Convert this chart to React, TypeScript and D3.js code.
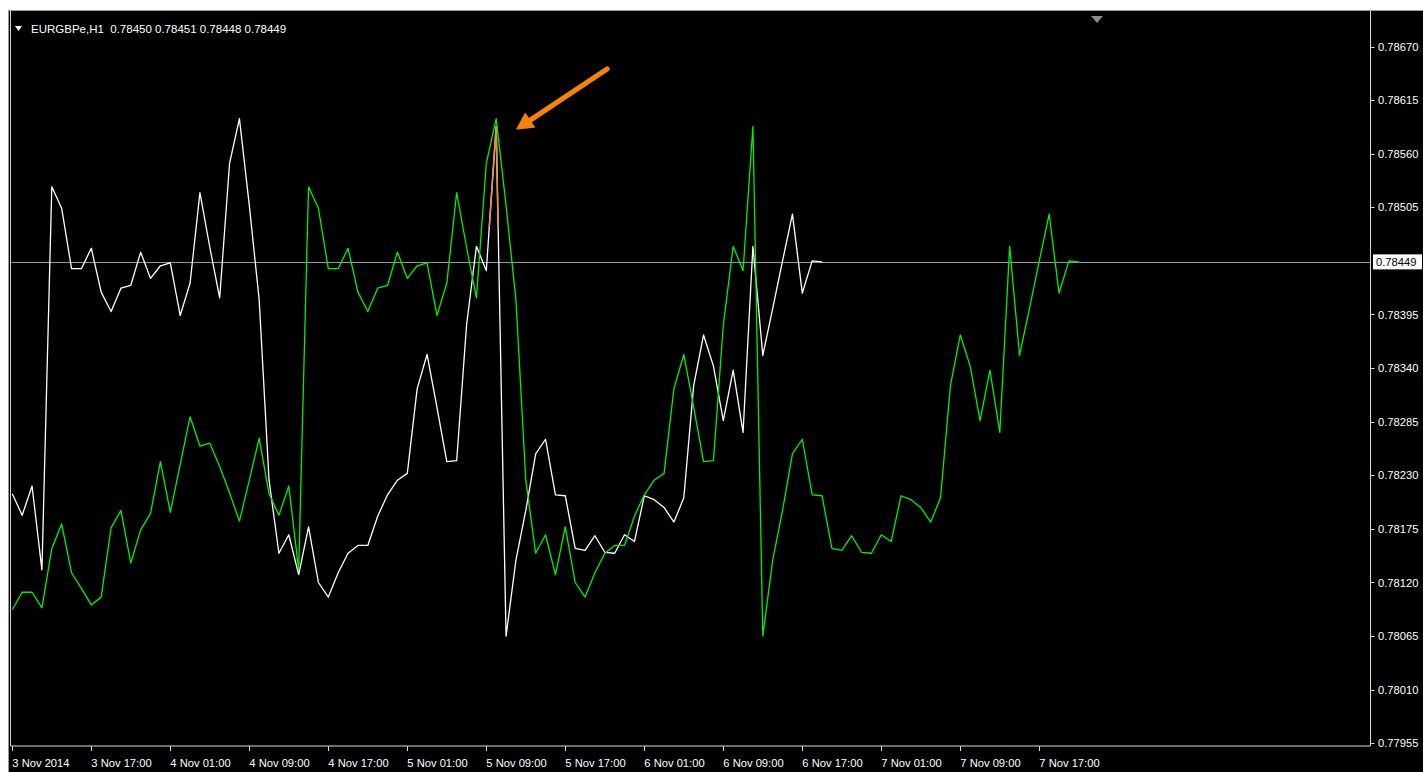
import React from "react";
import * as d3 from "d3";

// chart values
const symbolTitle = "EURGBPe,H1  0.78450 0.78451 0.78448 0.78449";
const currentPrice = 0.78449;

const timeLabels = [
  "3 Nov 2014", "3 Nov 17:00", "4 Nov 01:00", "4 Nov 09:00", "4 Nov 17:00",
  "5 Nov 01:00", "5 Nov 09:00", "5 Nov 17:00", "6 Nov 01:00", "6 Nov 09:00",
  "6 Nov 17:00", "7 Nov 01:00", "7 Nov 09:00", "7 Nov 17:00",
];

const priceTicks = [
  0.7867, 0.78615, 0.7856, 0.78505, 0.78395, 0.7834, 0.78285,
  0.7823, 0.78175, 0.7812, 0.78065, 0.7801, 0.77955,
];

// white line: hourly close
const whiteClose = [
  0.78211, 0.78189, 0.78219, 0.78133, 0.78526, 0.78504, 0.78442, 0.78442, 0.78463, 0.78418,
  0.78398, 0.78422, 0.78425, 0.78459, 0.78432, 0.78445, 0.78448, 0.78394, 0.78427, 0.7852,
  0.78464, 0.78412, 0.7855, 0.78596, 0.78507, 0.7841, 0.78225, 0.7815, 0.78169, 0.78128,
  0.78177, 0.7812, 0.78105, 0.7813, 0.7815, 0.78158, 0.78158, 0.78188, 0.7821, 0.78225,
  0.78232, 0.78319, 0.78354, 0.783, 0.78244, 0.78245, 0.78384, 0.78465, 0.7844, 0.78588,
  0.78065, 0.78143, 0.78194, 0.78252, 0.78267, 0.7821, 0.78209, 0.78155, 0.78153, 0.78168,
  0.78151, 0.7815, 0.78169, 0.78162, 0.78209, 0.78205, 0.78197, 0.78182, 0.78207, 0.78322,
  0.78374, 0.78342, 0.78286, 0.78338, 0.78274, 0.78465, 0.78353, 0.78401, 0.7845, 0.78498,
  0.78417, 0.7845, 0.78449,
];

// green line: shifted series
const greenLine = [
  0.78092, 0.7811, 0.7811, 0.78094, 0.78155, 0.7818, 0.7813, 0.78114, 0.78097, 0.78105,
  0.78176, 0.78194, 0.7814, 0.78174, 0.78191, 0.78244, 0.78192, 0.78241, 0.7829, 0.7826,
  0.78263, 0.78239, 0.78212, 0.78183, 0.78225, 0.78268,
  0.78211, 0.78189, 0.78219, 0.78133, 0.78526, 0.78504, 0.78442, 0.78442, 0.78463, 0.78418,
  0.78398, 0.78422, 0.78425, 0.78459, 0.78432, 0.78445, 0.78448, 0.78394, 0.78427, 0.7852,
  0.78464, 0.78412, 0.7855, 0.78596, 0.78507, 0.7841, 0.78225, 0.7815, 0.78169, 0.78128,
  0.78177, 0.7812, 0.78105, 0.7813, 0.7815, 0.78158, 0.78158, 0.78188, 0.7821, 0.78225,
  0.78232, 0.78319, 0.78354, 0.783, 0.78244, 0.78245, 0.78384, 0.78465, 0.7844, 0.78588,
  0.78065, 0.78143, 0.78194, 0.78252, 0.78267, 0.7821, 0.78209, 0.78155, 0.78153, 0.78168,
  0.78151, 0.7815, 0.78169, 0.78162, 0.78209, 0.78205, 0.78197, 0.78182, 0.78207, 0.78322,
  0.78374, 0.78342, 0.78286, 0.78338, 0.78274, 0.78465, 0.78353, 0.78401, 0.7845, 0.78498,
  0.78417, 0.7845, 0.78449,
];

const W = 1423, H = 772;
const plot = { left: 10.5, right: 1370.5, top: 11, bottom: 746 };
const font = "'Liberation Sans', Arial, sans-serif";

export default function App() {
  // bar index -> x (8 bars between time labels)
  const x = d3.scaleLinear().domain([0, 8]).range([12.3, 91.3]);
  const y = d3.scaleLinear().domain([0.77955, 0.7867]).range([743.3, 46.5]);

  const line = d3.line<number>()
    .x((d, i) => x(i))
    .y((d) => y(d));

  const whitePath = line(whiteClose) || "";
  const greenPath = line(greenLine) || "";

  // arrow pointing at the spike
  const tail = [607, 69], tip = [516, 129.5];
  const dx = tip[0] - tail[0], dy = tip[1] - tail[1];
  const len = Math.hypot(dx, dy);
  const ux = dx / len, uy = dy / len;
  const hl = 17, hw = 9;
  const bx = tip[0] - ux * hl, by = tip[1] - uy * hl;
  const head = [
    [tip[0], tip[1]],
    [bx - uy * hw, by + ux * hw],
    [bx + uy * hw, by - ux * hw],
  ].map((p) => p.join(",")).join(" ");

  return (
    <svg width={W} height={H} style={{ position: "absolute", left: 0, top: 0, display: "block" }}>
      <defs>
        <clipPath id="plotClip">
          <rect x={plot.left} y={plot.top} width={plot.right - plot.left} height={plot.bottom - plot.top} />
        </clipPath>
        <clipPath id="spikeClip">
          <rect x={482} y={100} width={22} height={127} />
        </clipPath>
        <filter id="glow" x="-20%" y="-20%" width="140%" height="140%">
          <feGaussianBlur in="SourceAlpha" stdDeviation="1.5" />
          <feOffset dx="1" dy="1" result="b" />
          <feMerge>
            <feMergeNode in="b" />
            <feMergeNode in="SourceGraphic" />
          </feMerge>
        </filter>
      </defs>

      <rect x={0} y={0} width={W} height={H} fill="#ffffff" />
      <rect x={8} y={10} width={W - 8} height={H - 10} fill="#000000" />
      <line x1={8} x2={W} y1={10.5} y2={10.5} stroke="#9a9a9a" />
      <line x1={8.5} x2={8.5} y1={10} y2={H} stroke="#9a9a9a" />

      {/* frame */}
      <line x1={plot.left} x2={plot.left} y1={plot.top} y2={plot.bottom} stroke="#d8d8d8" />
      <line x1={plot.left} x2={plot.right} y1={plot.bottom} y2={plot.bottom} stroke="#d8d8d8" />
      <line x1={plot.right} x2={plot.right} y1={plot.top} y2={plot.bottom} stroke="#d8d8d8" />

      {/* current price line */}
      <line x1={plot.left + 1} x2={plot.right} y1={Math.round(y(currentPrice)) + 0.5} y2={Math.round(y(currentPrice)) + 0.5} stroke="#8d9aa6" />

      <g clipPath="url(#plotClip)">
        <path d={whitePath} fill="none" stroke="#ffffff" strokeWidth={1.3} strokeLinejoin="round" />
        <path d={greenPath} fill="none" stroke="#00f000" strokeWidth={1.3} strokeLinejoin="round" />
        <path d={whitePath} fill="none" stroke="#e8913a" strokeWidth={1.6} clipPath="url(#spikeClip)" />
      </g>

      {/* right price axis */}
      {priceTicks.map((p) => (
        <g key={p}>
          <line x1={plot.right} x2={plot.right + 4} y1={Math.round(y(p)) + 0.5} y2={Math.round(y(p)) + 0.5} stroke="#d8d8d8" />
          <text x={1378} y={y(p) + 4} fill="#ffffff" fontFamily={font} fontSize={11.2}>{p.toFixed(5)}</text>
        </g>
      ))}
      <rect x={1373} y={y(currentPrice) - 7.5} width={49} height={15} fill="#ffffff" />
      <text x={1376} y={y(currentPrice) + 4} fill="#000000" fontFamily={font} fontSize={11.2}>{currentPrice.toFixed(5)}</text>

      {/* bottom time axis */}
      {timeLabels.map((t, i) => (
        <g key={t}>
          <line x1={Math.round(x(i * 8)) + 0.5} x2={Math.round(x(i * 8)) + 0.5} y1={plot.bottom} y2={plot.bottom + 5} stroke="#d8d8d8" />
          <text x={x(i * 8)} y={767} fill="#ffffff" fontFamily={font} fontSize={11.2}>{t}</text>
        </g>
      ))}

      {/* title */}
      <polygon points="15,26 22,26 18.5,31" fill="#ffffff" />
      <text x={31} y={33} fill="#ffffff" fontFamily={font} fontSize={11.5} style={{ whiteSpace: "pre" }}>{symbolTitle}</text>

      {/* chart shift marker */}
      <polygon points="1091,16 1103,16 1097,23" fill="#8c8c8c" />

      {/* annotation arrow */}
      <g filter="url(#glow)">
        <line x1={tail[0]} y1={tail[1]} x2={bx} y2={by} stroke="#f5820f" strokeWidth={5} strokeLinecap="round" />
        <polygon points={head} fill="#f5820f" />
      </g>
    </svg>
  );
}
